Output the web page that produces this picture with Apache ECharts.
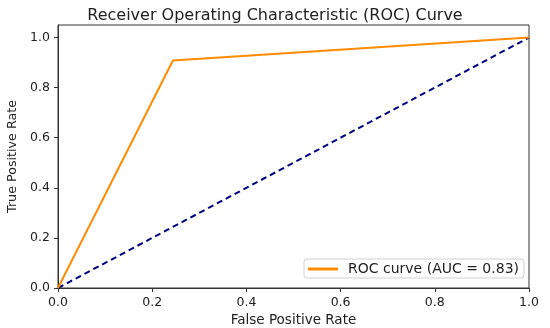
<!DOCTYPE html>
<html>
<head>
<meta charset="utf-8">
<script src="https://cdn.jsdelivr.net/npm/echarts@6/dist/echarts.min.js"></script>
<style>html,body{margin:0;padding:0;background:#fff}#c{width:550px;height:328px}</style>
</head>
<body>
<div id="c"></div>
<script>
const fpr = [0.0, 0.244, 1.0];
const tpr = [0.0, 0.908, 1.0];
const diagX = [0.0, 1.0];
const diagY = [0.0, 1.0];
const rocLabel = 'ROC curve (AUC = 0.83)';
const titleText = 'Receiver Operating Characteristic (ROC) Curve';
const xName = 'False Positive Rate';
const yName = 'True Positive Rate';

const font = 'DejaVu Sans';
const chart = echarts.init(document.getElementById('c'));
chart.setOption({
  animation: false,
  title: {text: titleText, left: 'center', top: 3,
    textStyle: {fontFamily: font, fontSize: 16, fontWeight: 'normal', color: '#222'}},
  legend: {data: [rocLabel], right: 26, top: 259, orient: 'horizontal',
    itemWidth: 30, itemHeight: 3, itemGap: 8, icon: 'rect',
    borderColor: '#d0d0d0', borderWidth: 1, borderRadius: 3, padding: [3, 5, 2, 4],
    textStyle: {fontFamily: font, fontSize: 14, color: '#222', padding: [0, 0, 0, 5]}},
  grid: {left: 58, right: 21, top: 25, bottom: 40, show: true, borderColor: '#333', borderWidth: 1,
    containLabel: false, outerBoundsMode: 'none'},
  xAxis: {type: 'value', min: 0, max: 1, interval: 0.2,
    name: xName, nameLocation: 'middle', nameGap: 23,
    nameTextStyle: {fontFamily: font, fontSize: 13.5, color: '#222'},
    axisLine: {lineStyle: {color: '#333'}},
    axisTick: {show: true, length: 4, lineStyle: {color: '#333'}},
    axisLabel: {fontFamily: font, fontSize: 12.5, color: '#222', margin: 8, formatter: v => v.toFixed(1)},
    splitLine: {show: false}},
  yAxis: {type: 'value', min: 0, max: 1.05, interval: 0.2,
    name: yName, nameLocation: 'middle', nameGap: 38,
    nameTextStyle: {fontFamily: font, fontSize: 12.7, color: '#222'},
    axisLine: {show: true, lineStyle: {color: '#333'}},
    axisTick: {show: true, length: 4, lineStyle: {color: '#333'}},
    axisLabel: {fontFamily: font, fontSize: 12.5, color: '#222', margin: 8, showMaxLabel: false,
      formatter: v => (v > 1.001 ? '' : v.toFixed(1))},
    splitLine: {show: false}},
  series: [
    {name: 'diag', type: 'line', data: diagX.map((x, i) => [x, diagY[i]]),
      showSymbol: false, lineStyle: {color: '#000080', width: 2, type: [6, 4]}, z: 2},
    {name: rocLabel, type: 'line', data: fpr.map((x, i) => [x, tpr[i]]),
      showSymbol: false, color: '#ff8c00', lineStyle: {color: '#ff8c00', width: 2}, z: 3}
  ]
});
</script>
</body>
</html>
